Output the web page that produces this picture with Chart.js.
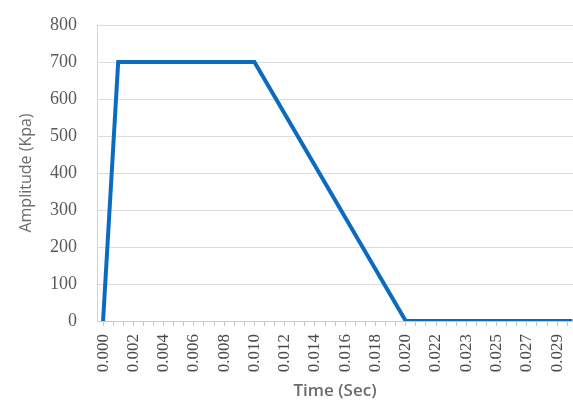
<!DOCTYPE html>
<html>
<head>
<meta charset="utf-8">
<script src="https://cdn.jsdelivr.net/npm/chart.js@4/dist/chart.umd.min.js"></script>
<style>
  html, body { margin: 0; padding: 0; background: #fff; overflow: hidden; }
  #wrap { width: 573px; height: 401px; position: relative; }
</style>
</head>
<body>
<div id="wrap"><canvas id="pulseChart"></canvas></div>
<script>
// values
const timeSec = [0.000, 0.001, 0.010, 0.020, 0.031];
const amplitudeKpa = [0, 700, 700, 0, 0];
const tickLabels = ['0.000', '0.002', '0.004', '0.006', '0.008', '0.010', '0.012', '0.014',
                    '0.016', '0.018', '0.020', '0.022', '0.023', '0.025', '0.027', '0.029'];
const labelStep = 0.002;
const minorPerLabel = 3;

const points = timeSec.map((t, i) => ({ x: t, y: amplitudeKpa[i] }));

const ctx = document.getElementById('pulseChart').getContext('2d');
new Chart(ctx, {
    type: 'line',
    data: {
        datasets: [{
            data: points,
            borderColor: '#0b6cbf',
            borderWidth: 4,
            pointRadius: 0,
            tension: 0,
            fill: false
        }]
    },
    options: {
        responsive: true,
        maintainAspectRatio: false,
        animation: false,
        layout: { padding: { top: 25, right: 0, bottom: 0, left: 0 } },
        plugins: { legend: { display: false }, tooltip: { enabled: false } },
        scales: {
            x: {
                type: 'linear',
                min: -0.0004,
                max: 0.03105,
                afterBuildTicks: function(scale) {
                    const ticks = [];
                    for (let k = 0; k < tickLabels.length * minorPerLabel; k++) {
                        const v = k * labelStep / minorPerLabel;
                        if (v > scale.max) break;
                        ticks.push({ value: v });
                    }
                    scale.ticks = ticks;
                },
                afterFit: function(scale) {
                    scale.height = 80;
                    scale.paddingLeft = 0;
                    scale.paddingRight = 0;
                },
                ticks: {
                    autoSkip: false,
                    maxRotation: 90,
                    minRotation: 90,
                    padding: 8,
                    color: '#4a4a4a',
                    font: { family: 'Liberation Serif', size: 17 },
                    callback: function(value, index) {
                        return index % minorPerLabel === 0 ? tickLabels[index / minorPerLabel] : '';
                    }
                },
                grid: {
                    drawOnChartArea: false,
                    drawTicks: true,
                    tickLength: 5,
                    color: '#c8c8c8'
                },
                border: { color: '#c8c8c8', width: 1 },
                title: {
                    display: true,
                    text: 'Time (Sec)',
                    color: '#6b6b6b',
                    font: { family: 'Open Sans', size: 17, weight: '600' },
                    padding: { top: 0, bottom: 0 }
                }
            },
            y: {
                min: 0,
                max: 800,
                afterFit: function(scale) {
                    scale.width = 97;
                    scale.paddingTop = 0;
                    scale.paddingBottom = 0;
                },
                ticks: {
                    stepSize: 100,
                    padding: 20,
                    color: '#5a5a5a',
                    font: { family: 'Liberation Serif', size: 18 }
                },
                grid: { color: '#dcdcdc', drawTicks: false },
                border: { color: '#d4d4d4' },
                title: {
                    display: true,
                    text: 'Amplitude (Kpa)',
                    color: '#6b6b6b',
                    font: { family: 'Open Sans', size: 16 },
                    padding: { top: 17, bottom: 0 }
                }
            }
        }
    }
});
</script>
</body>
</html>
